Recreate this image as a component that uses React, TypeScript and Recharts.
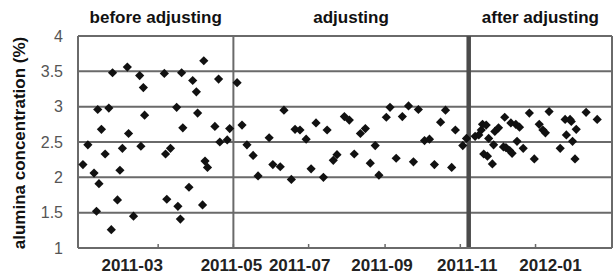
import React from 'react';
import {
  ScatterChart,
  Scatter,
  XAxis,
  YAxis,
  CartesianGrid,
  ReferenceLine,
  ReferenceArea,
  Label,
} from 'recharts';

// x values are days counted from 2011-01-01
const beforeDays = [-2, 2, 7, 9, 10, 11, 13, 16, 19, 21, 22, 26, 28, 30, 34, 35, 39, 44, 45, 47, 48, 64, 65, 66, 69, 74, 75, 77, 78, 79, 84, 87, 90, 91, 95, 96, 97, 99, 105, 108, 109, 115, 117];
const beforeValues = [2.18, 2.46, 2.06, 1.52, 2.96, 1.91, 2.68, 2.33, 2.98, 1.26, 3.48, 1.68, 2.1, 2.41, 3.56, 2.62, 1.45, 3.44, 2.44, 3.27, 2.88, 3.47, 2.33, 1.69, 2.41, 2.99, 1.59, 1.41, 3.48, 2.7, 1.86, 3.37, 3.21, 2.91, 1.61, 3.65, 2.23, 2.14, 2.72, 3.39, 2.5, 2.53, 2.69];

const adjustingDays = [123, 127, 131, 136, 140, 149, 152, 158, 161, 167, 170, 174, 179, 183, 187, 193, 196, 201, 204, 210, 214, 218, 223, 227, 231, 235, 238, 244, 247, 252, 257, 262, 266, 270, 275, 279, 283, 288, 292, 297, 300, 306, 309];
const adjustingValues = [3.34, 2.74, 2.46, 2.31, 2.02, 2.56, 2.18, 2.15, 2.95, 1.97, 2.68, 2.67, 2.54, 2.12, 2.77, 2.0, 2.67, 2.24, 2.32, 2.86, 2.81, 2.33, 2.62, 2.69, 2.2, 2.45, 2.03, 2.85, 2.99, 2.27, 2.86, 3.01, 2.22, 2.96, 2.52, 2.54, 2.18, 2.78, 2.95, 2.14, 2.67, 2.45, 2.55];

const afterDays = [316, 319, 321, 322, 323, 325, 326, 327, 330, 331, 332, 335, 339, 340, 341, 344, 345, 346, 349, 350, 352, 355, 360, 364, 368, 371, 373, 376, 385, 389, 390, 393, 394, 395, 397, 398, 406, 415];
const afterValues = [2.58, 2.6, 2.67, 2.75, 2.33, 2.74, 2.3, 2.55, 2.19, 2.46, 2.65, 2.7, 2.43, 2.85, 2.42, 2.38, 2.77, 2.34, 2.75, 2.51, 2.71, 2.41, 2.91, 2.26, 2.75, 2.67, 2.63, 2.93, 2.41, 2.82, 2.6, 2.82, 2.79, 2.51, 2.26, 2.68, 2.92, 2.82];

const xTickDays = [59, 120, 181, 243, 304, 365];
const xTickLabels = ['2011-03', '2011-05', '2011-07', '2011-09', '2011-11', '2012-01'];
const yTicks = [1, 1.5, 2, 2.5, 3, 3.5, 4];
const xDomain = [-6, 427];

const periodLabels = ['before adjusting', 'adjusting', 'after adjusting'];
const periodStarts = [-6, 120, 310.8];
const periodEnds = [120, 310.8, 427];
const yAxisTitle = 'alumina concentration (%)';

const zip = (days: number[], values: number[]) =>
  days.map((d, i) => ({ day: d, value: values[i] }));

const beforeData = zip(beforeDays, beforeValues);
const adjustingData = zip(adjustingDays, adjustingValues);
const afterData = zip(afterDays, afterValues);

const FONT = '"Liberation Sans", Arial, sans-serif';
const LINE = '#6a6a6a';
const LABEL_DX = [-26, -2, -9, -3, 7, 15];

const Diamond = (props: any) => {
  const { cx, cy } = props;
  const r = 4.6;
  return (
    <path
      d={`M${cx},${cy - r}L${cx + r},${cy}L${cx},${cy + r}L${cx - r},${cy}Z`}
      fill="#111"
    />
  );
};

const XTick = (props: any) => {
  const { x, y, payload } = props;
  const i = xTickDays.indexOf(payload.value);
  return (
    <text
      x={x + (LABEL_DX[i] || 0)}
      y={y}
      dy="0.71em"
      textAnchor="middle"
      fill="#222"
      fontSize={17}
      fontWeight="bold"
      fontFamily={FONT}
    >
      {xTickLabels[i]}
    </text>
  );
};

const YTitle = (props: any) => {
  const vb = props.viewBox || { x: 0, y: 36, width: 78, height: 212 };
  const cx = vb.x + 25;
  const cy = vb.y + vb.height / 2 + 1;
  return (
    <text
      x={cx}
      y={cy}
      transform={`rotate(-90 ${cx} ${cy})`}
      textAnchor="middle"
      fill="#111"
      fontSize={17}
      fontWeight="bold"
      fontFamily={FONT}
    >
      {yAxisTitle}
    </text>
  );
};

export default function App() {
  return (
    <div style={{ position: 'absolute', left: 0, top: 0, width: 614, height: 275, background: '#fff' }}>
      <ScatterChart width={614} height={275} margin={{ top: 36, right: 2, bottom: 0, left: 0 }}>
        <CartesianGrid vertical={false} stroke={LINE} strokeWidth={2} />
        <XAxis
          type="number"
          dataKey="day"
          domain={xDomain}
          ticks={xTickDays}
          interval={0}
          height={27}
          tickSize={-4}
          tickMargin={15}
          axisLine={{ stroke: LINE, strokeWidth: 2 }}
          tickLine={{ stroke: LINE, strokeWidth: 1.5 }}
          tick={<XTick />}
          allowDataOverflow
        />
        <YAxis
          type="number"
          dataKey="value"
          domain={[1, 4]}
          ticks={yTicks}
          interval={0}
          width={78}
          tickSize={0}
          tickMargin={15}
          axisLine={{ stroke: LINE, strokeWidth: 2 }}
          tickLine={false}
          tick={{ fill: '#555', fontSize: 16, fontFamily: FONT }}
          allowDataOverflow
        >
          <Label content={<YTitle />} />
        </YAxis>
        {periodLabels.map((p, i) => (
          <ReferenceArea
            key={p}
            x1={periodStarts[i]}
            x2={periodEnds[i]}
            y1={1}
            y2={4}
            fill="none"
            fillOpacity={0}
            stroke="none"
            label={{
              value: p,
              position: 'top',
              offset: 13,
              fill: '#111',
              fontSize: 17,
              fontWeight: 'bold',
              fontFamily: FONT,
            }}
          />
        ))}
        <ReferenceLine x={120} stroke={LINE} strokeWidth={2} />
        <ReferenceLine x={427} stroke={LINE} strokeWidth={2} />
        <Scatter data={beforeData} shape={<Diamond />} isAnimationActive={false} />
        <Scatter data={adjustingData} shape={<Diamond />} isAnimationActive={false} />
        <Scatter data={afterData} shape={<Diamond />} isAnimationActive={false} />
        <ReferenceLine x={310.8} stroke="#4a4a4a" strokeWidth={4.5} />
      </ScatterChart>
    </div>
  );
}
